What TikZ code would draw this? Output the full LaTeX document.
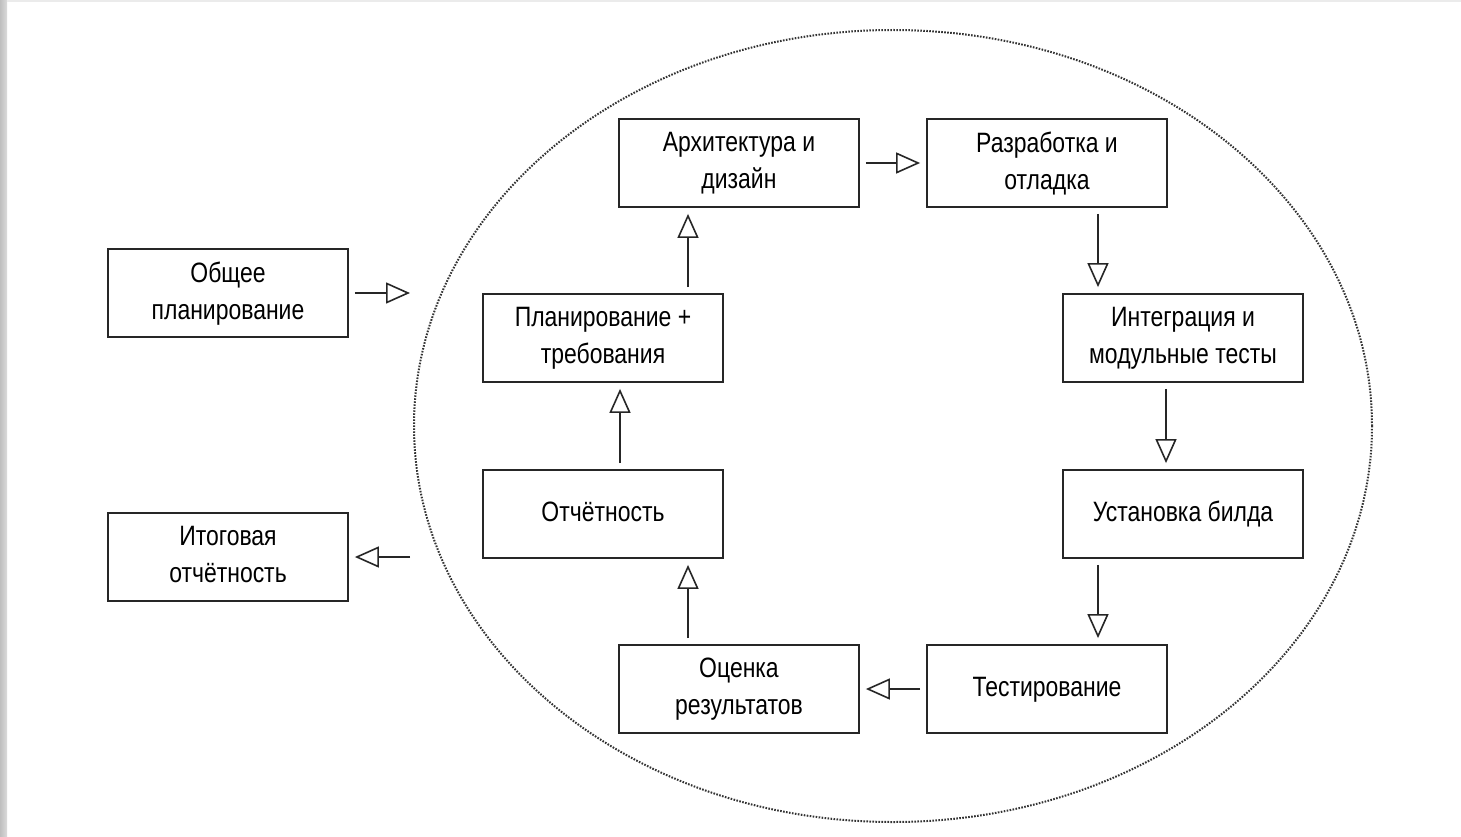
\documentclass[tikz,border=0pt]{standalone}
\usepackage{fontspec}
\setmainfont[FakeStretch=0.82]{Liberation Sans}
\usetikzlibrary{arrows.meta,shapes.geometric}
\begin{document}
\begin{tikzpicture}[x=1pt,y=-1pt,
  stage/.style={draw=black!85, line width=1.8pt, fill=white,
    minimum width=240pt, minimum height=88pt, inner sep=0pt,
    align=center, font=\fontsize{28}{37}\selectfont, text=black,
    text depth=5pt},
  arr/.style={line width=1.6pt, draw=black!85,
    -{Triangle[open, length=24pt, width=21pt, line width=1.6pt]},
    shorten >=6pt, shorten <=6pt},
  cycle/.style={draw=black!80, line width=2pt, ellipse,
    dash pattern=on 1.6pt off 1.4pt, minimum width=958pt, minimum height=792pt}
]
% page frame and slide edge
\useasboundingbox (0,0) rectangle (1461,837);
\fill[white] (0,0) rectangle (1461,837);
\fill[left color=black!25, right color=black!14] (0,0) rectangle (7,837);
\fill[black!8] (7,0) rectangle (1461,2);

% iteration loop
\node[cycle] (loop) at (893,426) {};

% stages
\node[stage] (obsh) at (228,293) {Общее\\планирование};
\node[stage] (itog) at (228,557) {Итоговая\\отчётность};
\node[stage] (arch) at (739,163) {Архитектура и\\дизайн};
\node[stage] (razr) at (1047,163) {Разработка и\\отладка};
\node[stage] (plan) at (603,338) {Планирование +\\требования};
\node[stage] (integ) at (1183,338) {Интеграция и\\модульные тесты};
\node[stage] (otch) at (603,514) {Отчётность};
\node[stage] (ust) at (1183,514) {Установка билда};
\node[stage] (ocen) at (739,689) {Оценка\\результатов};
\node[stage] (test) at (1047,689) {Тестирование};

% entry and exit of the loop
\coordinate (inpt) at (410,293);
\coordinate (outp) at (416,557);
\draw[arr, shorten >=0pt] (obsh.east) -- (inpt);
\draw[arr, shorten <=6pt] (outp) -- (itog.east);

% loop transitions
\draw[arr] (arch.east) -- (razr.west);
\draw[arr] ([xshift=51pt]razr.south) -- ([xshift=51pt]razr.south |- integ.north);
\draw[arr] ([xshift=-17pt]integ.south) -- ([xshift=-17pt]integ.south |- ust.north);
\draw[arr] ([xshift=51pt]test.north |- ust.south) -- ([xshift=51pt]test.north);
\draw[arr] (test.west) -- (ocen.east);
\draw[arr] ([xshift=-51pt]ocen.north) -- ([xshift=-51pt]ocen.north |- otch.south);
\draw[arr] ([xshift=17pt]otch.north) -- ([xshift=17pt]otch.north |- plan.south);
\draw[arr] ([xshift=85pt]plan.north) -- ([xshift=85pt]plan.north |- arch.south);
\end{tikzpicture}
\end{document}
